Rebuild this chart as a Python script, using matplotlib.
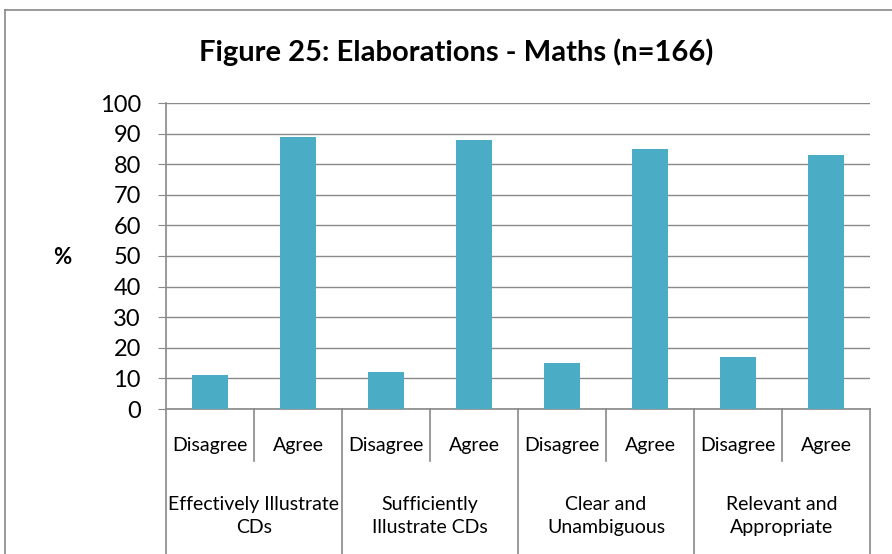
import numpy as np
import matplotlib
matplotlib.use("Agg")
import matplotlib.pyplot as plt
from matplotlib.lines import Line2D

plt.rcParams['font.family'] = ['Lato', 'DejaVu Sans']

# data
groups = ['Effectively Illustrate\nCDs', 'Sufficiently\nIllustrate CDs',
          'Clear and\nUnambiguous', 'Relevant and\nAppropriate']
answers = ['Disagree', 'Agree']
values = [11, 89, 12, 88, 15, 85, 17, 83]
yticks = list(range(0, 101, 10))

bar_color = '#4BACC6'
line_color = '#898989'

fig = plt.figure(figsize=(8.92, 5.54), dpi=100)
W, H = 892, 554
ax = fig.add_axes([166 / W, 1 - 409 / H, (870 - 166) / W, (409 - 103) / H])

x = np.arange(len(values))
ax.bar(x, values, width=0.41, color=bar_color, zorder=3)

ax.set_xlim(-0.5, len(values) - 0.5)
ax.set_ylim(0, 100)
ax.set_yticks(yticks)
ax.tick_params(axis='y', length=6, color=line_color, labelsize=17, pad=12)
ax.set_xticks([])
ax.grid(axis='y', color=line_color, linewidth=1, zorder=0)
for s in ['top', 'right']:
    ax.spines[s].set_visible(False)
for s in ['left', 'bottom']:
    ax.spines[s].set_color(line_color)
    ax.spines[s].set_linewidth(1.2)

trans = ax.get_xaxis_transform()
# first level labels and short separators
for i, v in enumerate(values):
    ax.text(i, -0.118, answers[i % 2], transform=trans, ha='center', va='center',
            fontsize=14, color='#000000')
for k in range(len(groups)):
    xs = 2 * k + 0.5
    ax.add_line(Line2D([xs, xs], [0, -0.17], transform=trans, color=line_color,
                       linewidth=1.2, clip_on=False))
for k in range(len(groups) + 1):
    xs = 2 * k - 0.5
    ax.add_line(Line2D([xs, xs], [0, -0.48], transform=trans, color=line_color,
                       linewidth=1.2, clip_on=False))
for k, g in enumerate(groups):
    ax.text(2 * k + 0.5, -0.35, g, transform=trans, ha='center', va='center',
            fontsize=14, linespacing=1.45)

fig.text(62 / W, 1 - 258 / H, '%', ha='center', va='center', fontsize=16,
         fontweight='bold')
fig.text(456 / W, 1 - 52 / H, 'Figure 25: Elaborations - Maths (n=166)',
         ha='center', va='center', fontsize=21, fontweight='bold')

# outer chart border
fig.add_artist(Line2D([5 / W, 1.0], [1 - 10 / H, 1 - 10 / H], color=line_color,
                      linewidth=1.2, transform=fig.transFigure))
fig.add_artist(Line2D([5 / W, 5 / W], [0, 1 - 10 / H], color=line_color,
                      linewidth=1.2, transform=fig.transFigure))

fig.savefig('out.png', dpi=100)
